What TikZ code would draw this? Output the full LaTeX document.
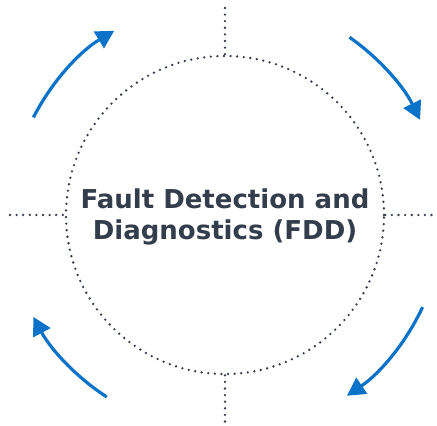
\documentclass[tikz,border=0pt]{standalone}
\usepackage{fontspec}
\newfontfamily\labelfont{DejaVu Sans}
\usetikzlibrary{arrows.meta}
\definecolor{dotgray}{HTML}{353E4C}
\definecolor{textgray}{HTML}{333D4B}
\definecolor{arrowblue}{HTML}{0A72C8}
\tikzset{
  dotline/.style={draw=dotgray, line width=2.6pt, line cap=round, dash pattern=on 0pt off 6.6pt},
  cyclearrow/.style={draw=arrowblue, line width=3.2pt, -{Triangle[length=18pt,width=19pt]}},
}
\begin{document}
\begin{tikzpicture}[x=1pt,y=1pt]
\useasboundingbox (0,0) rectangle (437,426);
\coordinate (c) at (225,211);
\node[circle, minimum size=318pt, inner sep=0pt, dotline] (ring) at (c) {};
\coordinate (t1) at (225,418);
\coordinate (b1) at (225,2);
\coordinate (l1) at (10,211);
\coordinate (r1) at (435,211);
\draw[dotline] (t1) -- (ring.north);
\draw[dotline] (ring.south) -- (b1);
\draw[dotline] (l1) -- (ring.west);
\draw[dotline] (ring.east) -- (r1);
\node[text=textgray, align=center, font=\labelfont\bfseries\fontsize{26}{31}\selectfont] (title) at (225,209) {Fault Detection and\\Diagnostics (FDD)};
\draw[cyclearrow] ([shift={(153:215)}]c) arc[start angle=153, end angle=121, radius=215];
\draw[cyclearrow] ([shift={(55:217)}]c) arc[start angle=55, end angle=26, radius=217];
\draw[cyclearrow] ([shift={(-25:218)}]c) arc[start angle=-25, end angle=-56, radius=218];
\draw[cyclearrow] ([shift={(237:217)}]c) arc[start angle=237, end angle=208, radius=217];
\end{tikzpicture}
\end{document}
